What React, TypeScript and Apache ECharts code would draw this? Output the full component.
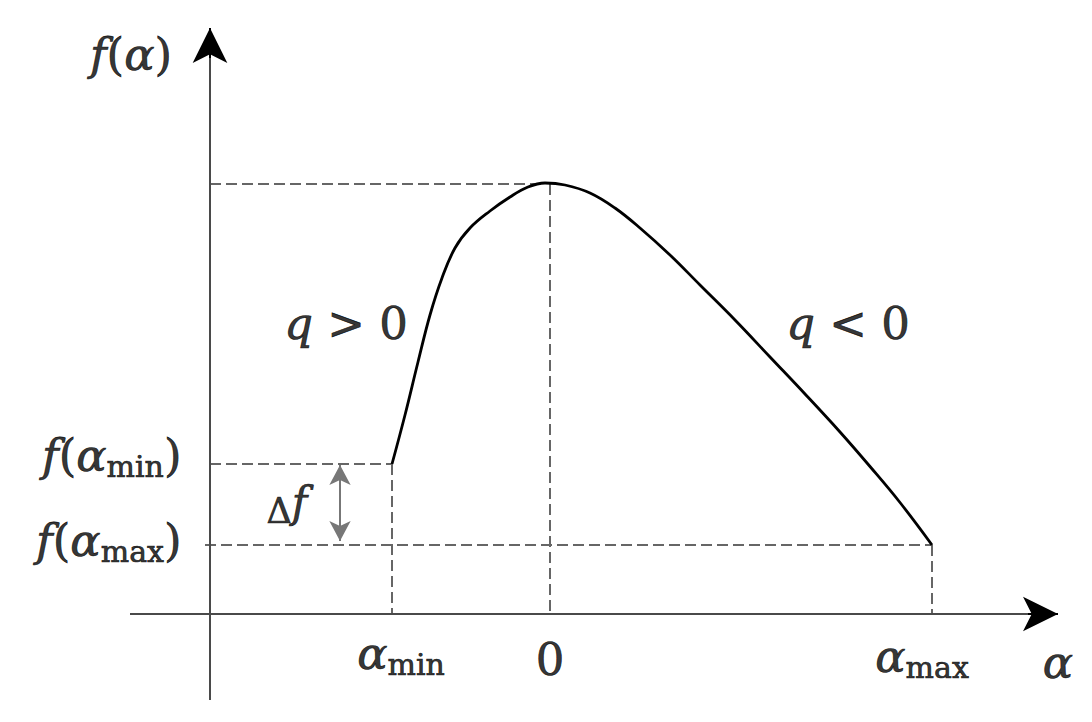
import React, { useEffect, useRef } from 'react';
import * as echarts from 'echarts';

// ---- data (arbitrary units) ----
const curveAlpha = [-1.58, -1.45, -1.32, -1.2, -1.08, -0.95, -0.8, -0.6, -0.4, -0.22, -0.05, 0.15, 0.4, 0.65, 0.9, 1.2, 1.5, 1.85, 2.2, 2.55, 2.9, 3.2, 3.5, 3.82];
const curveF = [1.5, 1.99, 2.52, 2.99, 3.36, 3.66, 3.86, 4.03, 4.17, 4.27, 4.31, 4.29, 4.21, 4.06, 3.86, 3.59, 3.29, 2.94, 2.57, 2.2, 1.82, 1.475, 1.115, 0.69];

const alphaMin = -1.58;
const alphaZero = 0;
const alphaMax = 3.82;
const fMax = 4.3;
const fAlphaMin = 1.5;
const fAlphaMax = 0.69;

const yAxisAt = -3.4;
const xAxisRange = [-4.2, 5.08];
const yAxisRange = [-0.86, 5.86];

const xTickLabels = ['{i|α}{s|min}', '{n|0}', '{i|α}{s|max}'];
const yTickLabels = ['{i|f}{n|(}{i|α}{s|min}{n|)}', '{i|f}{n|(}{i|α}{s|max}{n|)}'];
const axisTitles = ['{i|α}', '{i|f}{n|(}{i|α}{n|)}'];
const regionLabels = ['{i|q}{n| > 0}', '{i|q}{n| < 0}'];
const deltaLabel = '{d|Δ}{di|f}';

const FONT = 'DejaVu Serif, Liberation Serif, serif';
const INK = { color: '#000', textBorderColor: '#000', textBorderWidth: 0.7 };

const rich = {
  i: { fontFamily: FONT, fontStyle: 'italic', fontSize: 45, lineHeight: 52, ...INK },
  n: { fontFamily: FONT, fontSize: 45, lineHeight: 52, ...INK },
  s: { fontFamily: FONT, fontSize: 30, lineHeight: 24, verticalAlign: 'bottom', ...INK },
  d: { fontFamily: FONT, fontSize: 35, lineHeight: 47, verticalAlign: 'bottom', ...INK },
  di: { fontFamily: FONT, fontStyle: 'italic', fontSize: 42, lineHeight: 52, ...INK },
};

export default function App() {
  const ref = useRef<HTMLDivElement>(null);

  useEffect(() => {
    document.body.style.margin = '0';
    if (!ref.current) return;
    const chart = echarts.init(ref.current, undefined, { renderer: 'svg' });

    const dashStyle = { color: '#666', width: 2, type: [11, 5] as any };

    const labelItem = (x: number, y: number, text: string, position: string = 'inside') => ({
      value: [x, y],
      label: { show: true, formatter: text, position, distance: 0, fontFamily: FONT, fontSize: 45, color: '#000', rich },
    });

    const option: any = {
      animation: false,
      backgroundColor: '#fff',
      textStyle: { fontFamily: FONT, color: '#000' },
      grid: { left: 0, right: 0, top: 0, bottom: 0, containLabel: false },
      xAxis: { type: 'value', min: -5.5, max: 5.42, show: false },
      yAxis: { type: 'value', min: -1.08, max: 6.14, show: false },
      series: [
        {
          type: 'line',
          name: 'f(alpha)',
          data: curveAlpha.map((a, i) => [a, curveF[i]]),
          smooth: 0.4,
          showSymbol: false,
          symbol: 'none',
          clip: false,
          lineStyle: { color: '#000', width: 2.8 },
          z: 5,
        },
        {
          type: 'line',
          name: 'guides',
          data: [],
          clip: false,
          markLine: {
            silent: true,
            symbol: ['none', 'none'],
            label: { show: false },
            lineStyle: dashStyle,
            emphasis: { disabled: true },
            data: [
              [{ coord: [yAxisAt, fMax] }, { coord: [curveAlpha[10], fMax] }],
              [{ coord: [alphaZero, fMax] }, { coord: [alphaZero, 0] }],
              [{ coord: [yAxisAt, fAlphaMin] }, { coord: [alphaMin, fAlphaMin] }],
              [{ coord: [alphaMin, fAlphaMin] }, { coord: [alphaMin, 0] }],
              [{ coord: [yAxisAt - 0.05, fAlphaMax] }, { coord: [alphaMax, fAlphaMax] }],
              [{ coord: [alphaMax, fAlphaMax] }, { coord: [alphaMax, 0] }],
            ],
          },
        },
        {
          type: 'line',
          name: 'axes',
          data: [],
          clip: false,
          markLine: {
            silent: true,
            symbol: ['none', 'none'],
            label: { show: false },
            lineStyle: { color: '#4a4a4a', width: 2, type: 'solid' },
            emphasis: { disabled: true },
            data: [
              [{ coord: [xAxisRange[0], 0] }, { coord: [xAxisRange[1] - 0.2, 0] }],
              [{ coord: [yAxisAt, yAxisRange[0]] }, { coord: [yAxisAt, yAxisRange[1] - 0.2] }],
            ],
          },
        },
        {
          type: 'line',
          name: 'arrowheads',
          data: [],
          clip: false,
          z: 6,
          markLine: {
            silent: true,
            symbol: ['none', 'arrow'],
            symbolSize: [26, 35],
            label: { show: false },
            lineStyle: { color: '#000', width: 2, type: 'solid' },
            emphasis: { disabled: true },
            data: [
              [{ coord: [xAxisRange[1] - 0.3, 0] }, { coord: [xAxisRange[1], 0] }],
              [{ coord: [yAxisAt, yAxisRange[1] - 0.3] }, { coord: [yAxisAt, yAxisRange[1]] }],
            ],
          },
        },
        {
          type: 'line',
          name: 'delta',
          data: [],
          clip: false,
          markLine: {
            silent: true,
            symbol: ['arrow', 'arrow'],
            symbolSize: [16, 20],
            label: { show: false },
            lineStyle: { color: '#777', width: 2, type: 'solid' },
            emphasis: { disabled: true },
            data: [[{ coord: [-2.1, fAlphaMin - 0.01] }, { coord: [-2.1, fAlphaMax + 0.04] }]],
          },
        },
        {
          type: 'scatter',
          name: 'labels',
          symbolSize: 1,
          itemStyle: { color: 'rgba(0,0,0,0)' },
          silent: true,
          clip: false,
          z: 10,
          data: [
            labelItem(-1.49, -0.39, xTickLabels[0]),
            labelItem(alphaZero, -0.45, xTickLabels[1]),
            labelItem(3.72, -0.42, xTickLabels[2]),
            labelItem(-3.68, 1.59, yTickLabels[0], 'left'),
            labelItem(-3.68, 0.74, yTickLabels[1], 'left'),
            labelItem(5.08, -0.48, axisTitles[0]),
            labelItem(-4.19, 5.6, axisTitles[1]),
            labelItem(-2.04, 2.91, regionLabels[0]),
            labelItem(2.98, 2.91, regionLabels[1]),
            labelItem(-2.63, 1.12, deltaLabel),
          ],
        },
      ],
    };

    chart.setOption(option);
    return () => chart.dispose();
  }, []);

  return <div ref={ref} style={{ width: 1092, height: 722 }} />;
}
